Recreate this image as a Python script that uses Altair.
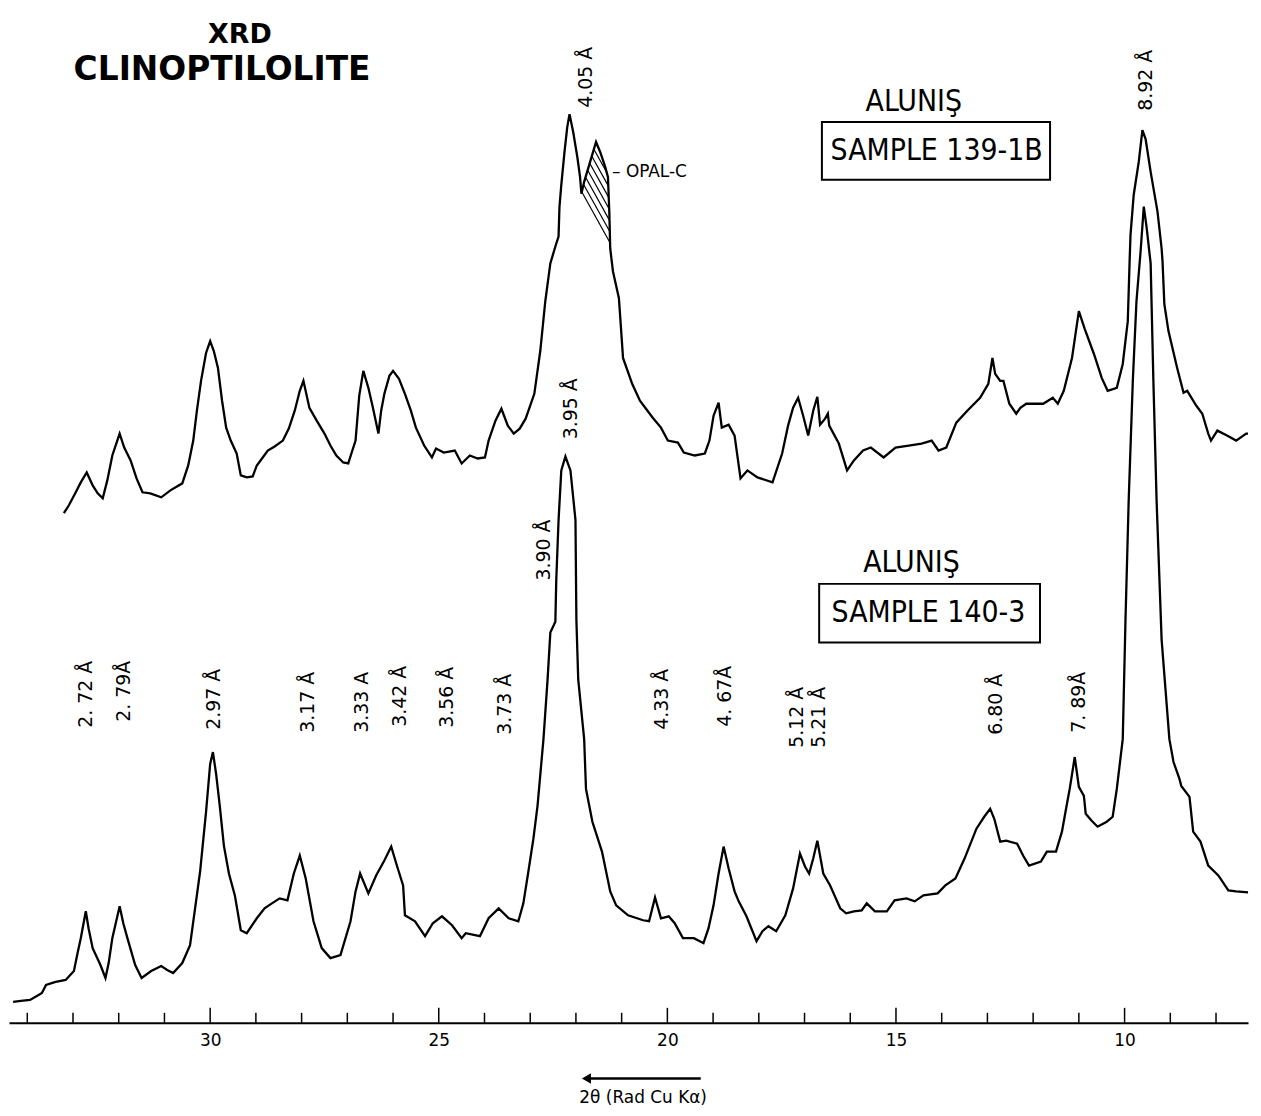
import altair as alt
import numpy as np
import pandas as pd

# ---------------- data ----------------
# Sample 140-3 (lower trace): 2-theta (deg) and relative intensity
t_140 = [34.31, 34.14, 33.94, 33.79, 33.68, 33.59, 33.38, 33.16, 32.98, 32.90,
         32.83, 32.72, 32.66, 32.57, 32.40, 32.29, 32.22, 32.14, 31.98, 31.90,
         31.81, 31.64, 31.50, 31.29, 31.07, 30.94, 30.81, 30.61, 30.44, 30.33,
         30.22, 30.09, 30.00, 29.94, 29.87, 29.79, 29.70, 29.59, 29.46, 29.33,
         29.20, 28.98, 28.81, 28.65, 28.48, 28.31, 28.17, 28.04, 27.91, 27.74,
         27.56, 27.37, 27.15, 26.93, 26.82, 26.72, 26.54, 26.37, 26.19, 26.04,
         25.91, 25.78, 25.74, 25.52, 25.30, 25.13, 24.93, 24.71, 24.50, 24.41,
         24.10, 23.91, 23.69, 23.47, 23.26, 23.15, 23.04, 22.93, 22.84, 22.71,
         22.62, 22.56, 22.45, 22.43, 22.38, 22.32, 22.23, 22.12, 22.06, 22.01,
         21.99, 21.95, 21.82, 21.78, 21.64, 21.43, 21.25, 21.12, 20.86, 20.53,
         20.40, 20.27, 20.14, 19.97, 19.84, 19.66, 19.42, 19.21, 19.10, 18.99,
         18.88, 18.77, 18.66, 18.53, 18.44, 18.27, 18.05, 17.92, 17.79, 17.62,
         17.42, 17.25, 17.10, 16.99, 16.90, 16.81, 16.72, 16.59, 16.44, 16.22,
         16.09, 15.92, 15.75, 15.64, 15.46, 15.20, 15.03, 14.77, 14.59, 14.40,
         14.09, 13.92, 13.70, 13.50, 13.24, 13.07, 12.94, 12.85, 12.72, 12.59,
         12.35, 12.22, 12.09, 11.83, 11.70, 11.50, 11.37, 11.28, 11.20, 11.09,
         11.00, 10.89, 10.85, 10.72, 10.59, 10.39, 10.26, 10.17, 10.04, 9.98,
         9.91, 9.82, 9.74, 9.65, 9.58, 9.52, 9.43, 9.37, 9.30, 9.19,
         9.02, 8.93, 8.80, 8.76, 8.58, 8.50, 8.34, 8.17, 7.95, 7.73,
         7.56, 7.30]
i_140 = [21, 22, 23, 27, 30, 38, 41, 43, 52, 70,
         85, 112, 95, 75, 58, 45, 60, 85, 117, 100,
         85, 58, 45, 52, 57, 53, 50, 60, 78, 115,
         152, 212, 260, 272, 250, 218, 178, 150, 128, 93,
         90, 105, 115, 120, 125, 123, 150, 168, 145, 102,
         75, 65, 68, 102, 132, 150, 130, 148, 163, 177,
         157, 138, 108, 102, 87, 100, 107, 98, 85, 90,
         87, 105, 115, 105, 102, 120, 152, 185, 218, 285,
         345, 392, 403, 445, 505, 555, 569, 555, 528, 505,
         405, 345, 285, 235, 202, 172, 132, 118, 108, 103,
         102, 126, 105, 107, 100, 85, 85, 80, 95, 118,
         150, 177, 155, 132, 122, 107, 82, 92, 97, 92,
         108, 135, 170, 157, 150, 165, 183, 150, 138, 115,
         110, 112, 113, 120, 112, 112, 123, 125, 122, 128,
         130, 138, 145, 165, 195, 207, 215, 205, 182, 183,
         180, 168, 158, 162, 172, 172, 192, 215, 235, 267,
         237, 228, 210, 203, 197, 202, 207, 235, 285, 405,
         525, 645, 725, 775, 820, 800, 763, 645, 525, 385,
         285, 262, 245, 238, 227, 192, 182, 158, 148, 133,
         132, 131]

# Sample 139-1B (upper trace, drawn offset)
t_139 = [33.20, 33.09, 32.94, 32.83, 32.70, 32.57, 32.46, 32.35, 32.25, 32.14,
         31.98, 31.88, 31.74, 31.61, 31.48, 31.31, 31.07, 30.87, 30.61, 30.48,
         30.37, 30.29, 30.20, 30.09, 30.00, 29.92, 29.83, 29.74, 29.65, 29.55,
         29.42, 29.33, 29.20, 29.07, 28.98, 28.85, 28.74, 28.59, 28.41, 28.28,
         28.15, 28.04, 27.96, 27.83, 27.67, 27.50, 27.37, 27.24, 27.09, 26.98,
         26.89, 26.82, 26.74, 26.65, 26.54, 26.45, 26.32, 26.26, 26.19, 26.08,
         26.00, 25.87, 25.74, 25.61, 25.50, 25.32, 25.15, 25.06, 24.89, 24.65,
         24.50, 24.32, 24.15, 23.99, 23.91, 23.76, 23.63, 23.49, 23.36, 23.23,
         23.10, 22.91, 22.78, 22.67, 22.56, 22.45, 22.38, 22.36, 22.32, 22.25,
         22.19, 22.14, 22.06, 21.97, 21.91, 21.88, 21.82, 21.69, 21.56, 21.47,
         21.36, 21.30, 21.27, 21.25, 21.19, 21.06, 21.01, 20.97, 20.77, 20.60,
         20.32, 20.14, 19.99, 19.77, 19.64, 19.40, 19.18, 19.08, 18.99, 18.88,
         18.81, 18.66, 18.53, 18.40, 18.25, 18.03, 17.70, 17.49, 17.36, 17.25,
         17.14, 17.03, 16.92, 16.81, 16.72, 16.66, 16.55, 16.49, 16.46, 16.25,
         16.07, 15.92, 15.72, 15.55, 15.27, 15.01, 14.72, 14.44, 14.22, 14.07,
         13.90, 13.68, 13.44, 13.16, 12.98, 12.89, 12.83, 12.72, 12.65, 12.52,
         12.37, 12.28, 12.15, 11.78, 11.57, 11.46, 11.33, 11.15, 11.00, 10.87,
         10.67, 10.50, 10.37, 10.17, 10.04, 9.93, 9.89, 9.87, 9.80, 9.69,
         9.61, 9.54, 9.43, 9.28, 9.19, 9.17, 9.13, 9.04, 8.85, 8.71,
         8.63, 8.43, 8.30, 8.17, 8.11, 7.97, 7.76, 7.56, 7.34, 7.30]
i_139 = [512, 520, 533, 543, 553, 540, 532, 527, 545, 570,
         592, 578, 565, 547, 533, 532, 528, 535, 542, 560,
         585, 615, 645, 673, 685, 675, 658, 625, 598, 585,
         572, 550, 548, 549, 560, 568, 575, 579, 585, 597,
         615, 635, 645, 618, 605, 592, 580, 570, 563, 562,
         575, 585, 630, 655, 638, 620, 592, 615, 632, 650,
         655, 647, 632, 615, 598, 580, 568, 577, 573, 575,
         562, 570, 567, 568, 585, 605, 617, 600, 592, 597,
         607, 632, 675, 725, 763, 780, 790, 820, 842, 875,
         900, 913, 895, 870, 850, 833, 845, 865, 885, 875,
         860, 850, 815, 778, 755, 728, 695, 668, 642, 625,
         608, 598, 585, 583, 573, 570, 572, 585, 610, 623,
         598, 601, 590, 547, 555, 548, 543, 572, 600, 618,
         628, 610, 590, 615, 629, 601, 607, 612, 600, 582,
         555, 565, 575, 578, 568, 578, 580, 582, 585, 575,
         578, 603, 615, 628, 642, 668, 652, 645, 645, 622,
         612, 618, 622, 622, 628, 622, 635, 668, 715, 697,
         672, 648, 635, 638, 662, 705, 765, 792, 832, 865,
         897, 888, 855, 815, 778, 765, 722, 695, 658, 633,
         635, 620, 612, 592, 585, 595, 590, 585, 592, 592]

# opal-C peak range (hatched) on the upper trace
OPAL_FROM, OPAL_TO = 21.88, 21.25

# d-spacing annotations
d_labels = ["2. 72 Å", "2. 79Å", "2.97 Å", "3.17 Å", "3.33 A", "3.42 Å", "3.56 Å",
            "3.73 Å", "3.90 Å", "3.95 Å", "4.33 Å", "4. 67Å", "5.12 Å", "5.21 Å",
            "6.80 Å", "7. 89Å", "4.05 Å", "8.92 Å"]
d_t = [32.72, 31.88, 29.92, 27.87, 26.67, 25.85, 24.82, 23.56, 22.69, 22.10,
       20.12, 18.73, 17.16, 16.68, 12.81, 11.00, 21.77, 9.52]
d_v = [330, 333, 325, 322, 322, 328, 327, 320, 475, 617,
       325, 328, 307, 307, 320, 322, 950, 947]

# sample captions and boxes
cap_text = ["ALUNIŞ", "SAMPLE 139-1B", "ALUNIŞ", "SAMPLE 140-3"]
cap_t = [14.61, 14.11, 14.66, 14.29]
cap_v = [925, 876, 462, 412]
box_t1 = [16.62, 16.68]
box_t2 = [11.63, 11.85]
box_v1 = [847, 382]
box_v2 = [905, 441]

axis_ticks = list(range(8, 35))
axis_labels = [10, 15, 20, 25, 30]

# ---------------- layout ----------------
X_MIN, X_MAX = 7.3, 34.4
W, H = 1245, 1017
Y_MAX = 1017
FONT = "DejaVu Sans"
NARROW = "Liberation Sans Narrow, DejaVu Sans Condensed, Liberation Sans"

xs = alt.Scale(domain=[X_MIN, X_MAX], reverse=True, nice=False, zero=False)
ys = alt.Scale(domain=[0, Y_MAX], nice=False, zero=False)

x_axis = alt.Axis(values=axis_labels, ticks=False, grid=False, domain=True,
                  domainColor="black", domainWidth=1.8, labelColor="black",
                  labelFontSize=17, labelFont=FONT, labelPadding=10, title=None,
                  labelFlush=False)


def X(f):
    return alt.X(f, type="quantitative", scale=xs, axis=x_axis)


def Y(f):
    return alt.Y(f, type="quantitative", scale=ys, axis=None)


traces = pd.concat([
    pd.DataFrame({"t": t_140, "v": i_140, "sample": "140-3"}),
    pd.DataFrame({"t": t_139, "v": i_139, "sample": "139-1B"}),
])

lines = alt.Chart(traces).mark_line(color="black", strokeWidth=2.3).encode(
    x=X("t"), y=Y("v"), detail="sample:N")

# axis ticks pointing up
tk = pd.DataFrame({"t": axis_ticks})
tk["y0"] = 0
tk["y1"] = np.where(tk["t"] % 5 == 0, 15, 10)
ticks = alt.Chart(tk).mark_rule(color="black", strokeWidth=1.5).encode(
    x=X("t"), y=Y("y0"), y2="y1")

# hatch of the opal-C peak
pxdeg = W / (X_MAX - X_MIN)
poly = [((X_MAX - t) * pxdeg, v) for t, v in zip(t_139, i_139) if OPAL_TO <= t <= OPAL_FROM]


def inside(px, py):
    c = False
    n = len(poly)
    j = n - 1
    for i in range(n):
        xi, yi = poly[i]
        xj, yj = poly[j]
        if (yi > py) != (yj > py):
            if px < (xj - xi) * (py - yi) / (yj - yi) + xi:
                c = not c
        j = i
    return c


slope = 1.8
cs = [x + y / slope for x, y in poly]
xmin = min(p[0] for p in poly) - 1
xmax = max(p[0] for p in poly) + 1
hatch_rows = []
for c in np.arange(min(cs) + 3, max(cs), 6.0):
    xg = np.linspace(xmin, xmax, 600)
    yg = (c - xg) * slope
    m = [inside(a, b) for a, b in zip(xg, yg)]
    idx = [k for k, ok in enumerate(m) if ok]
    if len(idx) >= 2:
        a, b = idx[0], idx[-1]
        hatch_rows.append({"t1": X_MAX - xg[a] / pxdeg, "v1": yg[a],
                           "t2": X_MAX - xg[b] / pxdeg, "v2": yg[b]})
hatch = alt.Chart(pd.DataFrame(hatch_rows)).mark_rule(color="black", strokeWidth=1.2).encode(
    x=X("t1"), y=Y("v1"), x2="t2", y2="v2")

dlab = pd.DataFrame({"t": d_t, "v": d_v, "label": d_labels})
dtext = alt.Chart(dlab).mark_text(angle=270, font=FONT, fontSize=19, color="black",
                                  align="center", baseline="middle").encode(
    x=X("t"), y=Y("v"), text="label:N")

caps = pd.DataFrame({"t": cap_t, "v": cap_v, "label": cap_text})
captext = alt.Chart(caps).mark_text(font=NARROW, fontSize=30, color="black",
                                    align="center", baseline="middle").encode(
    x=X("t"), y=Y("v"), text="label:N")

boxes = pd.DataFrame({"t1": box_t1, "t2": box_t2, "v1": box_v1, "v2": box_v2})
boxmark = alt.Chart(boxes).mark_rect(fill="white", fillOpacity=0, stroke="black",
                                     strokeWidth=2).encode(
    x=X("t1"), x2="t2", y=Y("v1"), y2="v2")

title1 = alt.Chart(pd.DataFrame({"t": [29.35], "v": [992], "label": ["XRD"]})).mark_text(
    font=FONT, fontWeight="bold", fontSize=27, color="black", align="center",
    baseline="middle").encode(x=X("t"), y=Y("v"), text="label:N")
title2 = alt.Chart(pd.DataFrame({"t": [29.74], "v": [957], "label": ["CLINOPTILOLITE"]})).mark_text(
    font=FONT, fontWeight="bold", fontSize=33, color="black", align="center",
    baseline="middle").encode(x=X("t"), y=Y("v"), text="label:N")

opal = alt.Chart(pd.DataFrame({"t": [21.21], "v": [855], "label": ["– OPAL-C"]})).mark_text(
    font=FONT, fontSize=17, color="black", align="left", baseline="middle").encode(
    x=X("t"), y=Y("v"), text="label:N")

xtitle = alt.Chart(pd.DataFrame({"t": [20.53], "v": [-76], "label": ["2θ (Rad Cu Kα)"]})).mark_text(
    font=FONT, fontSize=17, color="black", align="center", baseline="middle").encode(
    x=X("t"), y=Y("v"), text="label:N")

arrow_df = pd.DataFrame({"t1": [21.77], "t2": [19.27], "v": [-56]})
arrow_line = alt.Chart(arrow_df).mark_rule(color="black", strokeWidth=2.5).encode(
    x=X("t1"), x2="t2", y=Y("v"))
arrow_head = alt.Chart(arrow_df).mark_point(shape="triangle-left", filled=True, size=110,
                                            color="black", opacity=1).encode(
    x=X("t1"), y=Y("v"))

chart = alt.layer(
    lines, ticks, hatch, dtext, captext, boxmark, title1, title2, opal,
    xtitle, arrow_line, arrow_head
).properties(width=W, height=H, padding=0, background="white").configure_view(stroke=None)

chart.save("out.html", embed_options={"renderer": "svg", "actions": False})
